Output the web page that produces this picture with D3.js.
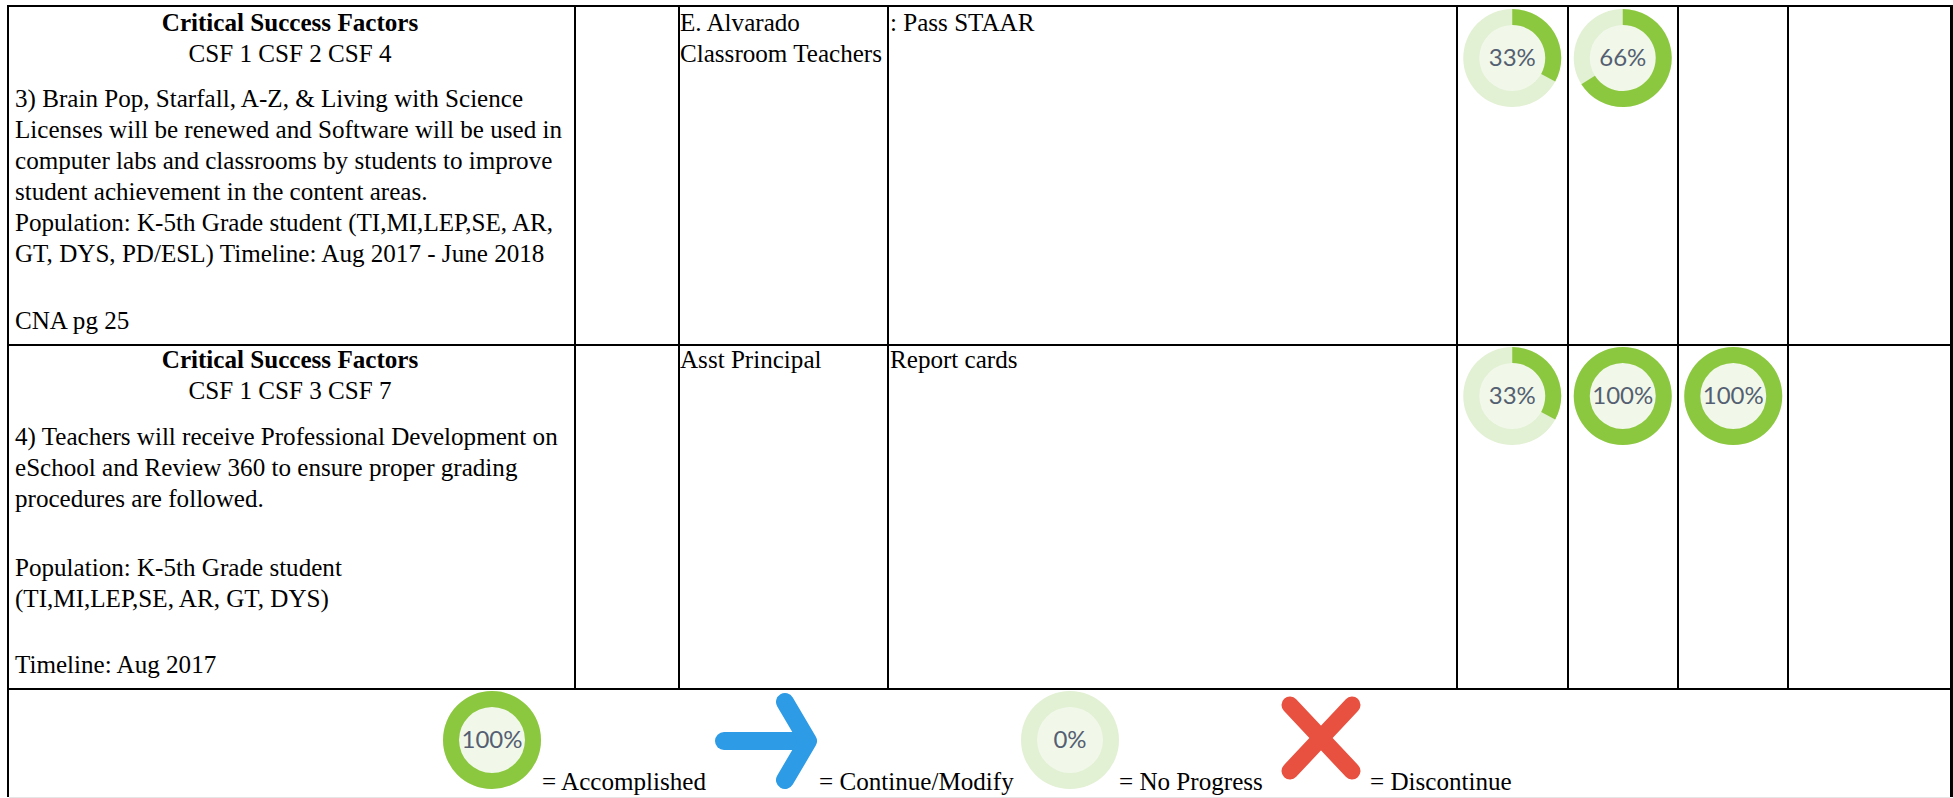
<!DOCTYPE html>
<html>
<head>
<meta charset="utf-8">
<script src="https://cdn.jsdelivr.net/npm/d3@7"></script>
<style>
  html, body { margin: 0; padding: 0; background: #fff; overflow: hidden; }
  text { font-family: "Liberation Serif", serif; fill: #000; }
  .pct { font-family: Lato, sans-serif; fill: #555f72; text-anchor: middle; }
</style>
</head>
<body>
<div id="chart"></div>
<script>
// table content
var quarters = ["Q1", "Q2", "Q3", "Q4"];

var row3Strategy = [
  { t: "Critical Success Factors", b: true, center: true, line: 0 },
  { t: "CSF 1 CSF 2 CSF 4", center: true, line: 1 },
  { t: "3) Brain Pop, Starfall, A-Z, & Living with Science", line: 2.45 },
  { t: "Licenses will be renewed and Software will be used in", line: 3.45 },
  { t: "computer labs and classrooms by students to improve", line: 4.45 },
  { t: "student achievement in the content areas.", line: 5.45 },
  { t: "Population: K-5th Grade student (TI,MI,LEP,SE, AR,", line: 6.45 },
  { t: "GT, DYS, PD/ESL) Timeline: Aug 2017 - June 2018", line: 7.45 },
  { t: "CNA pg 25", line: 9.6 }
];
var row4Strategy = [
  { t: "Critical Success Factors", b: true, center: true, line: 0 },
  { t: "CSF 1 CSF 3 CSF 7", center: true, line: 1 },
  { t: "4) Teachers will receive Professional Development on", line: 2.48 },
  { t: "eSchool and Review 360 to ensure proper grading", line: 3.48 },
  { t: "procedures are followed.", line: 4.48 },
  { t: "Population: K-5th Grade student", line: 6.7 },
  { t: "(TI,MI,LEP,SE, AR, GT, DYS)", line: 7.7 },
  { t: "Timeline: Aug 2017", line: 9.84 }
];
var staff = [["E. Alvarado", "Classroom Teachers"], ["Asst Principal"]];
var evidence = [": Pass STAAR", "Report cards"];

var row3Progress = [33, 66];
var row4Progress = [33, 100, 100];

var legendLabels = ["= Accomplished", "= Continue/Modify", "= No Progress", "= Discontinue"];
var legendProgress = [100, 0];

// layout
var width = 1953, height = 798;
var colLines = [8, 575, 679, 888, 1457, 1568, 1678, 1788];
var rowLines = [6, 345, 689];
var rowBaseline = [31, 368];
var lineHeight = 31;
var fontSize = 25.1;

var svg = d3.select("#chart").append("svg")
  .attr("width", width)
  .attr("height", height);

var quarterX = d3.scaleBand().domain(quarters).range([1457, 1899]);
var angle = d3.scaleLinear().domain([0, 100]).range([0, 2 * Math.PI]);
var arc = d3.arc().innerRadius(33).outerRadius(49).startAngle(0);

// grid
svg.append("g").selectAll("line")
  .data(colLines)
  .enter().append("line")
  .attr("x1", function (d) { return d; })
  .attr("x2", function (d) { return d; })
  .attr("y1", 5)
  .attr("y2", function (d, i) { return i == 0 ? height - 1 : rowLines[2]; })
  .attr("stroke", "#000")
  .attr("stroke-width", 2);

svg.append("g").selectAll("line")
  .data(rowLines)
  .enter().append("line")
  .attr("x1", colLines[0])
  .attr("x2", width)
  .attr("y1", function (d) { return d; })
  .attr("y2", function (d) { return d; })
  .attr("stroke", "#000")
  .attr("stroke-width", 2);

// right border is a bit heavier, and a faint edge closes the bottom
svg.append("line")
  .attr("x1", 1951.5).attr("x2", 1951.5)
  .attr("y1", 5).attr("y2", height - 1)
  .attr("stroke", "#000")
  .attr("stroke-width", 3);
svg.append("line")
  .attr("x1", 9).attr("x2", 1950)
  .attr("y1", height - 0.5).attr("y2", height - 0.5)
  .attr("stroke", "#e6e6e6");

function drawDonut(g, value) {
  g.append("circle").attr("r", 49).attr("fill", "#e2f0d3");
  g.append("circle").attr("r", 33).attr("fill", "#f1f8ea");
  g.append("path")
    .attr("d", arc({ endAngle: angle(value) }))
    .attr("fill", "#8cc83f");
  g.append("text")
    .attr("class", "pct")
    .attr("y", 8)
    .attr("font-size", 24)
    .text(value + "%");
}

function drawProgress(values, y) {
  values.forEach(function (v, i) {
    var g = svg.append("g")
      .attr("transform", "translate(" + (quarterX(quarters[i]) + quarterX.bandwidth() / 2) + "," + y + ")");
    drawDonut(g, v);
  });
}
drawProgress(row3Progress, 58);
drawProgress(row4Progress, 396);

function drawStrategy(lines, base) {
  svg.append("g").selectAll("text")
    .data(lines)
    .enter().append("text")
    .attr("x", function (d) { return d.center ? 290 : 15; })
    .attr("y", function (d) { return base + d.line * lineHeight; })
    .attr("text-anchor", function (d) { return d.center ? "middle" : "start"; })
    .attr("font-weight", function (d) { return d.b ? "bold" : "normal"; })
    .attr("font-size", fontSize)
    .text(function (d) { return d.t; });
}
drawStrategy(row3Strategy, rowBaseline[0]);
drawStrategy(row4Strategy, rowBaseline[1]);

staff.forEach(function (names, r) {
  svg.append("g").selectAll("text")
    .data(names)
    .enter().append("text")
    .attr("x", 680)
    .attr("y", function (d, i) { return rowBaseline[r] + i * lineHeight; })
    .attr("font-size", fontSize)
    .text(function (d) { return d; });
});

svg.append("g").selectAll("text")
  .data(evidence)
  .enter().append("text")
  .attr("x", 890)
  .attr("y", function (d, i) { return rowBaseline[i]; })
  .attr("font-size", fontSize)
  .text(function (d) { return d; });

// legend row
var legendY = 740;
var legendDonutX = [492, 1070];
legendProgress.forEach(function (v, i) {
  drawDonut(svg.append("g").attr("transform", "translate(" + legendDonutX[i] + "," + legendY + ")"), v);
});

var arrow = svg.append("g")
  .attr("fill", "none")
  .attr("stroke", "#2d9be5")
  .attr("stroke-width", 18)
  .attr("stroke-linecap", "round")
  .attr("stroke-linejoin", "round");
arrow.append("path").attr("d", "M724,741H806");
arrow.append("path").attr("d", "M785,702L808,741L785,780");

svg.append("path")
  .attr("d", "M1290,705L1352,771M1352,705L1290,771")
  .attr("fill", "none")
  .attr("stroke", "#e8503f")
  .attr("stroke-width", 17)
  .attr("stroke-linecap", "round");

var legendX = [542, 819, 1119, 1370];
svg.append("g").selectAll("text")
  .data(legendLabels)
  .enter().append("text")
  .attr("x", function (d, i) { return legendX[i]; })
  .attr("y", 790)
  .attr("font-size", fontSize)
  .text(function (d) { return d; });
</script>
</body>
</html>
